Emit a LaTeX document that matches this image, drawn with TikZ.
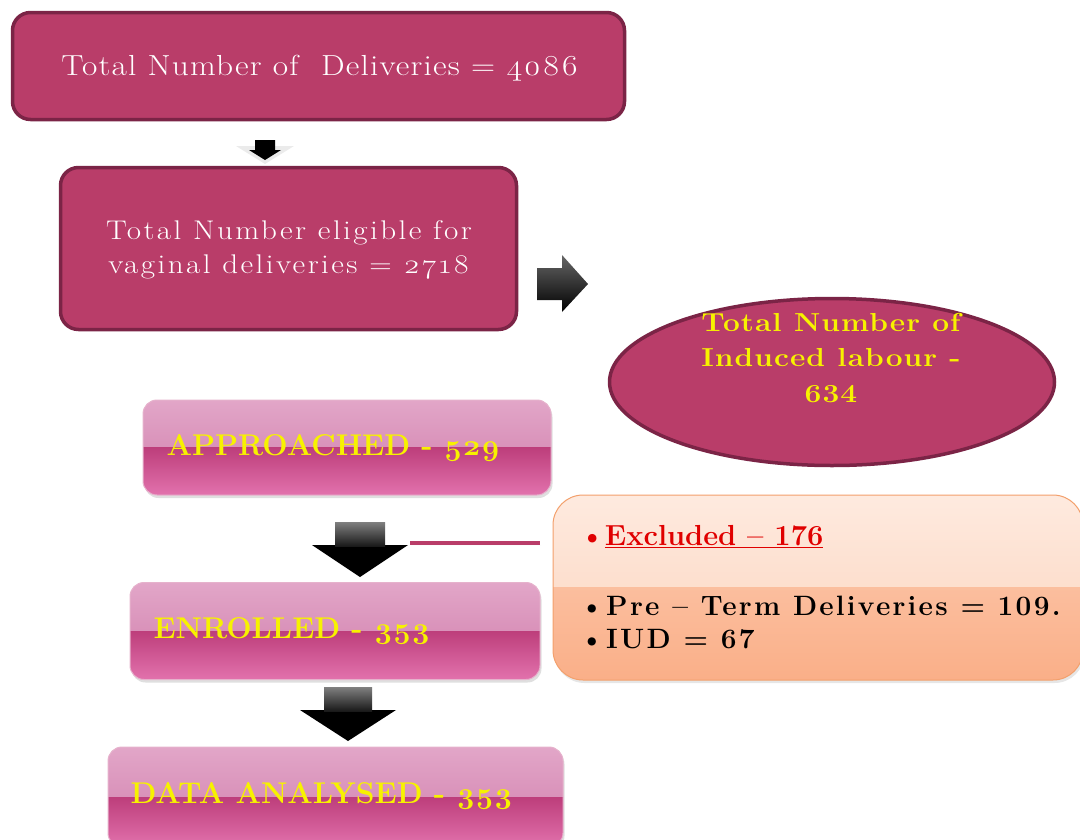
\documentclass[tikz,border=0pt]{standalone}
\usepackage{fontspec}
\setmainfont{Latin Modern Roman}
\newfontfamily\oldnum{Latin Modern Roman}[Numbers=OldStyle]
\newfontfamily\widefont{Latin Modern Roman}[FakeStretch=1.15]
\usetikzlibrary{shapes.geometric,shadows}
\definecolor{crim}{HTML}{B93D69}
\definecolor{crimedge}{HTML}{7B2446}
\definecolor{gtop}{HTML}{E2A6C8}
\definecolor{gmidA}{HTML}{D07DAB}
\definecolor{gmidB}{HTML}{BD3E7B}
\definecolor{gbot}{HTML}{E272AD}
\definecolor{gedge}{HTML}{E6B2CC}
\definecolor{otop}{HTML}{FEEADF}
\definecolor{omidA}{HTML}{FCD3BC}
\definecolor{omidB}{HTML}{FBBE9E}
\definecolor{obot}{HTML}{FAAF88}
\definecolor{oedge}{HTML}{F3A06C}
\definecolor{yel}{HTML}{F7F200}
\definecolor{exred}{HTML}{E00000}
\tikzset{
  darkbox/.style={draw=crimedge, fill=crim, line width=3.5pt, rounded corners=18pt, inner sep=0pt},
  glossy/.style={draw=gedge, line width=1pt, rounded corners=14pt, inner sep=0pt,
    drop shadow={shadow xshift=1.5pt, shadow yshift=-3pt, opacity=0.25},
    path picture={
      \shade[sharp corners, top color=gtop, bottom color=gmidA] (path picture bounding box.north west) rectangle (path picture bounding box.east);
      \shade[sharp corners, top color=gmidB, bottom color=gbot] (path picture bounding box.west) rectangle (path picture bounding box.south east);
    }},
  orangebox/.style={draw=oedge, line width=1pt, rounded corners=30pt, inner sep=0pt,
    drop shadow={shadow xshift=1.5pt, shadow yshift=-3pt, opacity=0.2},
    path picture={
      \shade[sharp corners, top color=otop, bottom color=omidA] (path picture bounding box.north west) rectangle (path picture bounding box.east);
      \shade[sharp corners, top color=omidB, bottom color=obot] (path picture bounding box.west) rectangle (path picture bounding box.south east);
    }},
  yeltxt/.style={text=yel, font=\bfseries\fontsize{30}{36}\selectfont},
  blocky/.style={fill=black},
}
\begin{document}
\begin{tikzpicture}[x=1pt,y=-1pt]
\useasboundingbox (0,0) rectangle (1080,839);

% top boxes
\node[darkbox, minimum width=612pt, minimum height=107pt] (tot) at (318.5,66) {};
\node[text=white, font=\widefont\fontsize{29}{34}\selectfont\addfontfeature{LetterSpace=4,Numbers=OldStyle}] (tottxt) at (320,68) {Total Number of\ \ Deliveries = 4086};

\node[darkbox, minimum width=456pt, minimum height=162pt] (elig) at (288.5,248.5) {};
\node[text=white, align=center, font=\widefont\fontsize{27}{34}\selectfont\addfontfeature{LetterSpace=9,Numbers=OldStyle}] (eligtxt) at (289,250) {Total Number eligible for\\vaginal deliveries = 2718};

% ellipse
\node[ellipse, draw=crimedge, fill=crim, line width=3.5pt, minimum width=445pt, minimum height=167pt] (ind) at (832,382) {};
\node[text=yel, align=center, font=\widefont\bfseries\fontsize{26}{35.5}\selectfont\addfontfeature{LetterSpace=4}] (indtxt) at (831,358) {Total Number of\\Induced labour -\\634};

% glossy boxes
\node[glossy, minimum width=408pt, minimum height=95pt] (app) at (347,447.5) {};
\node[yeltxt, anchor=west] (apptxt) at (163,448) {APPROACHED - {\oldnum 529}};

\node[glossy, minimum width=410pt, minimum height=97pt] (enr) at (335,631) {};
\node[yeltxt, anchor=west] (enrtxt) at (150,631) {ENROLLED - {\oldnum 353}};

\node[glossy, minimum width=455pt, minimum height=100pt] (dat) at (335.5,797) {};
\node[yeltxt, anchor=west] (dattxt) at (127,796) {DATA ANALYSED - {\oldnum 353}};

% excluded box
\node[orangebox, minimum width=530pt, minimum height=185pt] (exc) at (818,587.5) {};
\node[anchor=west, text=exred, font=\bfseries\fontsize{29}{34}\selectfont] (exctxt) at (576,537) {\textbullet\underline{Excluded -- 176}};
\node[anchor=west, text=black, font=\bfseries\fontsize{28}{33}\selectfont\addfontfeature{LetterSpace=8}, align=left] (exclist) at (576,622) {\textbullet Pre -- Term Deliveries = 109.\\\textbullet IUD = 67};

% connector line to excluded box
\coordinate (lineA) at (410,543);
\coordinate (lineB) at (540,543);
\draw[crim, line width=4pt, drop shadow={shadow xshift=1pt, shadow yshift=-2pt, opacity=0.2}] (lineA) -- (lineB);

% block arrows
% small down arrow between top boxes
\fill[black!8] (236,146) -- (294,146) -- (265,164) -- cycle;
\fill[blocky] (255,140) -- (275,140) -- (275,150) -- (281,150) -- (265,160) -- (249,150) -- (255,150) -- cycle;
% right arrow
\shade[top color=black!60, bottom color=black] (537,268) -- (562,268) -- (562,255) -- (588,284) -- (562,312) -- (562,300) -- (537,300) -- cycle;
% down arrow approached -> enrolled
\fill[blocky] (312,545) -- (408,545) -- (360,577) -- cycle;
\shade[top color=black!50, bottom color=black!90] (335,522) rectangle (385,546);
% down arrow enrolled -> analysed
\fill[blocky] (300,710) -- (396,710) -- (348,741) -- cycle;
\shade[top color=black!50, bottom color=black!90] (324,687) rectangle (372,711);
\end{tikzpicture}
\end{document}
